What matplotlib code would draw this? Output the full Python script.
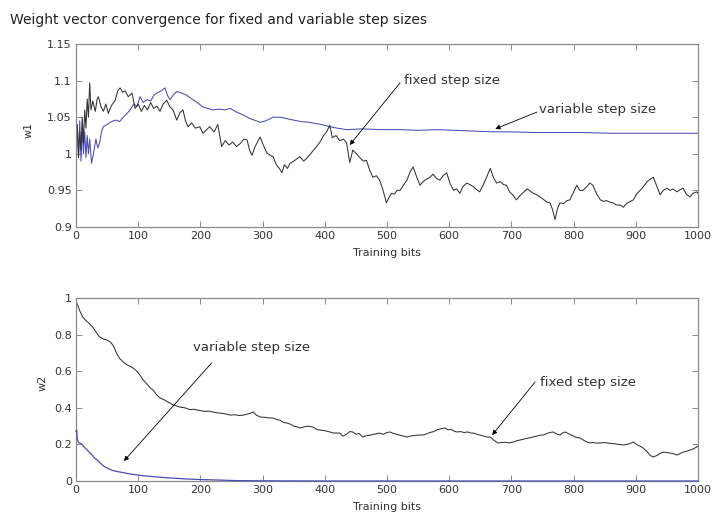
import matplotlib.pyplot as plt

# w1 estimate, fixed step size
w1_fixed_x = [0, 2, 4, 6, 8, 10, 12, 14, 16, 18, 20, 22, 24, 27, 31, 34, 36, 40, 44, 48,
              52, 57, 63, 67, 71, 75, 79, 84, 90, 95, 100, 105, 110, 115, 120, 125, 130,
              135, 140, 146, 151, 156, 162, 167, 172, 176, 180, 186, 192, 199, 204, 210,
              215, 222, 228, 234, 240, 246, 252, 258, 264, 270, 275, 279, 283, 288, 296,
              301, 307, 312, 317, 322, 327, 331, 335, 340, 344, 350, 355, 360, 366, 371,
              377, 382, 387, 393, 398, 403, 408, 412, 418, 424, 430, 435, 440, 445, 451,
              456, 462, 467, 472, 477, 483, 488, 493, 499, 503, 507, 512, 516, 521, 527,
              532, 537, 542, 547, 553, 558, 563, 569, 574, 580, 585, 590, 596, 601, 607,
              612, 617, 622, 628, 633, 639, 644, 649, 655, 661, 666, 671, 676, 682, 687,
              692, 697, 702, 708, 714, 720, 725, 729, 735, 741, 746, 751, 757, 762, 766,
              770, 774, 778, 784, 789, 794, 800, 805, 810, 815, 821, 826, 831, 837, 843,
              848, 853, 858, 863, 869, 875, 880, 885, 891, 896, 901, 907, 912, 918, 923,
              928, 934, 939, 944, 950, 955, 960, 966, 971, 976, 981, 987, 992, 998, 1000]
w1_fixed = [1.000, 1.040, 0.995, 1.030, 1.005, 1.050, 1.015, 1.060, 1.035, 1.075, 1.050,
            1.097, 1.060, 1.072, 1.058, 1.075, 1.078, 1.065, 1.058, 1.068, 1.055, 1.066,
            1.073, 1.086, 1.090, 1.084, 1.086, 1.078, 1.083, 1.062, 1.068, 1.058, 1.066,
            1.060, 1.070, 1.062, 1.065, 1.058, 1.068, 1.073, 1.064, 1.060, 1.046, 1.056,
            1.060, 1.045, 1.037, 1.042, 1.035, 1.037, 1.028, 1.033, 1.037, 1.030, 1.040,
            1.010, 1.018, 1.012, 1.016, 1.010, 1.014, 1.020, 1.019, 1.005, 0.998, 1.010,
            1.023, 1.012, 1.001, 0.998, 0.996, 0.985, 0.980, 0.974, 0.985, 0.980, 0.987,
            0.990, 0.993, 0.996, 0.990, 0.994, 1.000, 1.005, 1.010, 1.017, 1.025, 1.030,
            1.039, 1.022, 1.025, 1.018, 1.020, 1.015, 0.988, 1.005, 1.000, 0.995, 0.990,
            0.991, 0.978, 0.968, 0.970, 0.964, 0.952, 0.933, 0.940, 0.946, 0.945, 0.950,
            0.950, 0.958, 0.964, 0.975, 0.982, 0.970, 0.957, 0.962, 0.965, 0.968, 0.972,
            0.966, 0.964, 0.970, 0.974, 0.960, 0.950, 0.952, 0.946, 0.955, 0.960, 0.958,
            0.955, 0.951, 0.948, 0.958, 0.970, 0.980, 0.968, 0.960, 0.962, 0.958, 0.957,
            0.948, 0.944, 0.937, 0.943, 0.948, 0.952, 0.950, 0.946, 0.944, 0.941, 0.938,
            0.934, 0.933, 0.924, 0.910, 0.925, 0.933, 0.932, 0.936, 0.937, 0.948, 0.957,
            0.950, 0.950, 0.955, 0.960, 0.957, 0.945, 0.937, 0.935, 0.936, 0.934, 0.933,
            0.930, 0.930, 0.927, 0.932, 0.935, 0.937, 0.945, 0.950, 0.955, 0.962, 0.965,
            0.968, 0.955, 0.944, 0.950, 0.953, 0.950, 0.952, 0.948, 0.951, 0.953, 0.945,
            0.941, 0.946, 0.948, 0.946]

# w1 estimate, variable step size
w1_var_x = [0, 2, 4, 6, 8, 10, 12, 14, 16, 18, 20, 22, 25, 28, 32, 35, 38, 41, 44, 50,
            55, 60, 65, 70, 76, 82, 87, 93, 98, 103, 108, 114, 120, 125, 130, 137, 143,
            147, 151, 156, 162, 170, 178, 186, 195, 204, 212, 220, 230, 240, 248, 258,
            269, 280, 290, 296, 305, 317, 328, 339, 350, 362, 375, 381, 395, 408, 420,
            435, 460, 490, 520, 550, 580, 610, 640, 670, 700, 740, 780, 820, 860, 900,
            950, 1000]
w1_var = [1.000, 1.040, 0.995, 1.045, 0.990, 1.035, 1.000, 1.030, 0.995, 1.025, 1.000,
          1.020, 0.987, 1.000, 1.020, 1.008, 1.015, 1.030, 1.037, 1.040, 1.043, 1.045,
          1.046, 1.044, 1.050, 1.055, 1.060, 1.068, 1.065, 1.078, 1.070, 1.074, 1.072,
          1.080, 1.083, 1.086, 1.090, 1.080, 1.074, 1.080, 1.085, 1.083, 1.080, 1.075,
          1.070, 1.064, 1.062, 1.060, 1.061, 1.060, 1.062, 1.057, 1.053, 1.048, 1.045,
          1.043, 1.045, 1.050, 1.050, 1.048, 1.046, 1.044, 1.043, 1.042, 1.040, 1.037,
          1.035, 1.033, 1.034, 1.033, 1.033, 1.032, 1.033, 1.032, 1.031, 1.030, 1.030,
          1.029, 1.029, 1.029, 1.028, 1.028, 1.028, 1.028]

# w2 estimate, fixed step size
w2_fixed_x = [0, 3, 6, 11, 15, 20, 27, 33, 38, 45, 50, 55, 60, 65, 70, 76, 82, 88, 92, 98,
              103, 108, 114, 119, 124, 130, 135, 141, 146, 151, 157, 162, 167, 175, 183,
              190, 194, 200, 207, 213, 220, 228, 235, 242, 248, 255, 262, 269, 275, 280,
              285, 290, 296, 303, 310, 317, 323, 328, 333, 339, 345, 350, 356, 360, 366,
              372, 381, 388, 394, 400, 408, 414, 420, 424, 429, 435, 440, 445, 450, 455,
              461, 467, 472, 478, 483, 488, 494, 500, 505, 510, 516, 521, 527, 532, 537,
              542, 548, 553, 558, 564, 569, 575, 580, 586, 593, 598, 603, 608, 612, 618,
              624, 630, 635, 639, 645, 650, 656, 661, 666, 671, 678, 684, 690, 696, 703,
              709, 715, 721, 728, 735, 740, 746, 752, 757, 762, 767, 772, 778, 782, 786,
              791, 797, 803, 810, 815, 820, 826, 831, 837, 843, 848, 854, 860, 866, 872,
              880, 885, 891, 896, 901, 907, 912, 918, 923, 928, 934, 939, 944, 950, 955,
              960, 966, 971, 976, 981, 987, 992, 998, 1000]
w2_fixed = [0.980, 0.960, 0.930, 0.896, 0.880, 0.865, 0.840, 0.810, 0.787, 0.775, 0.770,
            0.760, 0.740, 0.700, 0.670, 0.650, 0.635, 0.625, 0.617, 0.600, 0.578, 0.552,
            0.530, 0.510, 0.497, 0.470, 0.454, 0.445, 0.435, 0.426, 0.415, 0.410, 0.404,
            0.400, 0.390, 0.392, 0.388, 0.385, 0.380, 0.382, 0.377, 0.372, 0.370, 0.365,
            0.360, 0.362, 0.358, 0.360, 0.365, 0.370, 0.377, 0.360, 0.350, 0.348, 0.345,
            0.344, 0.335, 0.333, 0.320, 0.317, 0.310, 0.300, 0.295, 0.290, 0.295, 0.300,
            0.295, 0.280, 0.278, 0.275, 0.268, 0.262, 0.262, 0.262, 0.245, 0.255, 0.270,
            0.268, 0.255, 0.260, 0.240, 0.248, 0.250, 0.255, 0.258, 0.262, 0.255, 0.265,
            0.268, 0.260, 0.255, 0.250, 0.245, 0.240, 0.245, 0.248, 0.250, 0.252, 0.251,
            0.258, 0.265, 0.270, 0.279, 0.285, 0.290, 0.280, 0.282, 0.272, 0.268, 0.270,
            0.265, 0.268, 0.262, 0.262, 0.255, 0.250, 0.245, 0.240, 0.240, 0.225, 0.208,
            0.210, 0.212, 0.208, 0.213, 0.220, 0.225, 0.230, 0.235, 0.240, 0.245, 0.250,
            0.252, 0.260, 0.265, 0.268, 0.258, 0.251, 0.262, 0.268, 0.260, 0.250, 0.240,
            0.235, 0.225, 0.215, 0.208, 0.210, 0.207, 0.208, 0.210, 0.208, 0.205, 0.203,
            0.200, 0.197, 0.200, 0.205, 0.213, 0.200, 0.190, 0.180, 0.160, 0.140, 0.131,
            0.140, 0.150, 0.158, 0.155, 0.152, 0.150, 0.142, 0.150, 0.158, 0.162, 0.169,
            0.175, 0.186, 0.190]

# w2 estimate, variable step size
w2_var_x = [0, 1, 2, 4, 8, 12, 18, 25, 30, 34, 40, 45, 50, 57, 64, 71, 80, 90, 98, 110,
            120, 130, 145, 160, 178, 200, 231, 260, 300, 400, 500, 700, 1000]
w2_var = [0.270, 0.280, 0.230, 0.210, 0.205, 0.190, 0.169, 0.145, 0.125, 0.115, 0.095,
          0.080, 0.071, 0.060, 0.053, 0.049, 0.043, 0.037, 0.033, 0.028, 0.025, 0.022,
          0.018, 0.015, 0.011, 0.008, 0.005, 0.002, 0.001, 0.0, 0.0, 0.0, 0.0]

title = 'Weight vector convergence for fixed and variable step sizes'
x_ticks = list(range(0, 1001, 100))
w1_ticks = [0.9, 0.95, 1.0, 1.05, 1.1, 1.15]
w1_labels = ['0.9', '0.95', '1', '1.05', '1.1', '1.15']
w2_ticks = [0, 0.2, 0.4, 0.6, 0.8, 1.0]
w2_labels = ['0', '0.2', '0.4', '0.6', '0.8', '1']

blue = '#4a4ab4'
dark = '#333333'
frame = '#8a8a8a'

fig = plt.figure(figsize=(7.15, 5.14), dpi=100)
ax1 = fig.add_axes([0.1063, 0.5584, 0.870, 0.356])
ax2 = fig.add_axes([0.1063, 0.0642, 0.870, 0.356])

ax1.plot(w1_var_x, w1_var, color=blue, lw=0.75)
ax1.plot(w1_fixed_x, w1_fixed, color=dark, lw=0.75)
ax2.plot(w2_fixed_x, w2_fixed, color=dark, lw=0.75)
ax2.plot(w2_var_x, w2_var, color=blue, lw=0.9, clip_on=False, zorder=5)

ax1.set_ylim(0.9, 1.15)
ax1.set_yticks(w1_ticks)
ax1.set_yticklabels(w1_labels)
ax2.set_ylim(0, 1)
ax2.set_yticks(w2_ticks)
ax2.set_yticklabels(w2_labels)

for ax in (ax1, ax2):
    ax.set_xlim(0, 1000)
    ax.set_xticks(x_ticks)
    ax.tick_params(direction='in', length=4, width=0.7, top=True, right=True,
                   color=frame, labelsize=8, labelcolor='#333333', pad=3)
    for s in ax.spines.values():
        s.set_color(frame)
        s.set_linewidth(0.9)
    ax.set_xlabel('Training bits', fontsize=8, color='#333333', labelpad=5)

ax1.set_ylabel('w1', fontsize=8, color='#333333')
ax2.set_ylabel('w2', fontsize=8, color='#333333')
ax1.yaxis.set_label_coords(-0.069, 0.53)
ax2.yaxis.set_label_coords(-0.045, 0.535)

arrow = dict(arrowstyle='-|>', color='k', lw=0.6, mutation_scale=7,
             shrinkA=0, shrinkB=0)
txt = dict(fontsize=9.5, color='#333333', va='center', ha='left')

# arrows and callouts, top panel
ax1.annotate('', xy=(440, 1.012), xytext=(521, 1.097), arrowprops=arrow)
ax1.text(527, 1.100, 'fixed step size', **txt)
ax1.annotate('', xy=(674, 1.034), xytext=(741, 1.057), arrowprops=arrow)
ax1.text(745, 1.060, 'variable step size', **txt)

# arrows and callouts, bottom panel
ax2.annotate('', xy=(77, 0.109), xytext=(218, 0.645), arrowprops=arrow)
ax2.text(188, 0.727, 'variable step size', **txt)
ax2.annotate('', xy=(669, 0.251), xytext=(738, 0.541), arrowprops=arrow)
ax2.text(746, 0.536, 'fixed step size', **txt)

fig.text(0.014, 0.961, title, fontsize=10, color='#222222', ha='left', va='center')

fig.savefig('out.png', dpi=100)
